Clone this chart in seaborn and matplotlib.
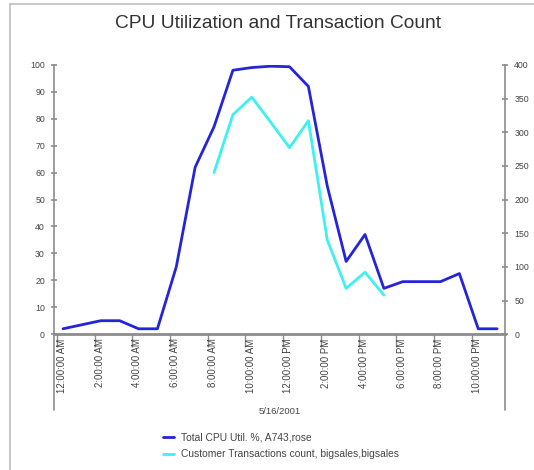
import matplotlib
matplotlib.use("Agg")
import matplotlib.pyplot as plt
from matplotlib.lines import Line2D
import seaborn as sns
import pandas as pd

# Hourly samples on 5/16/2001 (taken about 20 minutes past each hour)
hours = list(range(24))
sample_minute = 20
cpu_util = [2, 3.5, 5, 5, 2, 2, 25, 62, 77, 98, 99, 99.5,
            99.3, 92, 55, 27, 37, 17, 19.5, 19.5, 19.5, 22.5, 2, 2]
# transactions only recorded between 8 AM and 5 PM
trans_hours = [8, 9, 10, 11, 12, 13, 14, 15, 16, 17]
trans_count = [240, 326, 352, 315, 277, 317, 140, 68, 92, 58]
tick_hours = [0, 2, 4, 6, 8, 10, 12, 14, 16, 18, 20, 22]
tick_labels = ["12:00:00 AM", "2:00:00 AM", "4:00:00 AM", "6:00:00 AM",
               "8:00:00 AM", "10:00:00 AM", "12:00:00 PM", "2:00:00 PM",
               "4:00:00 PM", "6:00:00 PM", "8:00:00 PM", "10:00:00 PM"]

cpu_df = pd.DataFrame({"t": [h + sample_minute / 60 for h in hours], "cpu": cpu_util})
trans_df = pd.DataFrame({"t": [h + sample_minute / 60 for h in trans_hours], "count": trans_count})

sns.set_style("white")
plt.rcParams["font.family"] = ["Liberation Sans", "DejaVu Sans"]

gray = "#8c8c8c"
txt = "#444444"
blue = "#2424d8"
cyan = "#3ff0f0"

fig = plt.figure(figsize=(5.34, 4.70), dpi=100)
ax = fig.add_axes([0.101, 0.289, 0.845, 0.573])
ax2 = ax.twinx()

sns.lineplot(data=cpu_df, x="t", y="cpu", ax=ax, color=blue, linewidth=2.0,
             label="Total CPU Util. %, A743,rose", legend=False)
sns.lineplot(data=trans_df, x="t", y="count", ax=ax2, color=cyan, linewidth=2.0,
             label="Customer Transactions count, bigsales,bigsales", legend=False)

ax.set_xlim(-0.15, 23.76)
ax.set_ylim(0, 100)
ax2.set_ylim(0, 400)
ax.set_yticks(range(0, 101, 10))
ax2.set_yticks(range(0, 401, 50))
# tick marks on the hour, labels drawn just to the right of each mark
ax.set_xticks(tick_hours)
ax.set_xticklabels([""] * len(tick_hours))
ax.set_xticks([h + 0.27 for h in tick_hours], tick_labels, minor=True)
ax.tick_params(axis="x", which="major", direction="out", length=9, width=1.0,
               color=gray, bottom=True)
ax.tick_params(axis="x", which="minor", length=0, pad=3, labelsize=7,
               labelcolor=txt, labelrotation=90, bottom=True)
ax.set_xlabel("5/16/2001", fontsize=6.8, color=txt, labelpad=10)
ax.set_ylabel("")
ax2.set_ylabel("")

for a in (ax, ax2):
    for s in a.spines.values():
        s.set_visible(False)
ax.spines["left"].set_visible(True)
ax.spines["left"].set_color(gray)
ax.spines["left"].set_linewidth(1.2)
ax.spines["bottom"].set_visible(True)
ax.spines["bottom"].set_color(gray)
ax.spines["bottom"].set_linewidth(2.0)
ax2.spines["right"].set_visible(True)
ax2.spines["right"].set_color(gray)
ax2.spines["right"].set_linewidth(1.2)

ax.tick_params(axis="y", direction="inout", length=5, width=1.2, color=gray,
               labelsize=6.3, labelcolor=txt, pad=4, left=True)
ax2.tick_params(axis="y", direction="inout", length=5, width=1.2, color=gray,
                labelsize=6.3, labelcolor=txt, pad=4, right=True)

# axis lines run down past the category labels
for xpos in (0, 1):
    ax.plot([xpos, xpos], [0, -0.283], transform=ax.transAxes, color=gray,
            linewidth=1.2, clip_on=False)

fig.suptitle("CPU Utilization and Transaction Count", x=0.521, y=0.968,
             fontsize=13.8, color="#333333")

# chart frame
fig.add_artist(Line2D([0.019, 1.0], [0.991, 0.991], color="#c0c0c0", linewidth=1.2))
fig.add_artist(Line2D([0.019, 0.019], [0.0, 0.991], color="#c0c0c0", linewidth=1.2))

h1, l1 = ax.get_legend_handles_labels()
h2, l2 = ax2.get_legend_handles_labels()
fig.legend(h1 + h2, l1 + l2, loc="upper left", bbox_to_anchor=(0.287, 0.1),
           frameon=False, fontsize=7.4, handlelength=1.1, handletextpad=0.7,
           labelspacing=0.7, labelcolor=txt)

fig.savefig("out.png", dpi=100)
